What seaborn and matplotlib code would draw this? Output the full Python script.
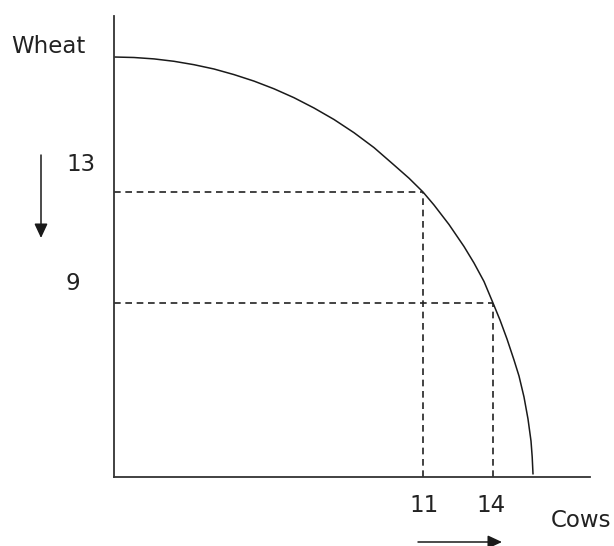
import matplotlib
matplotlib.use("Agg")
import matplotlib.pyplot as plt
import matplotlib.patches as mpatches
import seaborn as sns
import pandas as pd

# Production possibility frontier (schematic units)
curve_x = [0, 20, 40, 60, 80, 100, 120, 140, 160, 180, 200, 220, 240, 260, 280,
           295, 309, 320, 335, 350, 360, 370, 379, 386, 393, 400, 405, 410, 414,
           417, 418.2, 419]
curve_y = [420, 419.5, 418.1, 415.7, 412.3, 408, 402.4, 395.9, 388.2, 379.3, 369,
           357.5, 344.3, 329.4, 312, 298.8, 285, 272, 252.5, 230.5, 214, 195.5, 174,
           157, 138, 117, 101, 80, 58, 36, 20, 3]

# marked points on the frontier (cows, wheat) and their labels
point_x = [309, 379]
point_y = [285, 174]
cows_labels = ["11", "14"]
wheat_labels = ["13", "9"]

x_title = "Cows"
y_title = "Wheat"

sns.set_theme(style="white")
plt.rcParams["font.family"] = ["DejaVu Sans"]

W, H = 614, 546
fig = plt.figure(figsize=(W / 100, H / 100), dpi=100)
ax = fig.add_axes([114 / W, (H - 477) / H, 476 / W, 461 / H])

df = pd.DataFrame({"cows": curve_x, "wheat": curve_y})
sns.lineplot(data=df, x="cows", y="wheat", sort=False, estimator=None,
             color="#1a1a1a", linewidth=1.1, ax=ax)

for px, py in zip(point_x, point_y):
    ax.plot([0, px], [py, py], color="#222222", linewidth=1.2, linestyle=(0, (4, 2.8)))
    ax.plot([px, px], [0, py], color="#222222", linewidth=1.2, linestyle=(0, (4, 2.8)))

ax.set_xlim(0, 476)
ax.set_ylim(0, 461)
ax.set_xticks([])
ax.set_yticks([])
ax.set_xlabel("")
ax.set_ylabel("")
for s in ["top", "right"]:
    ax.spines[s].set_visible(False)
for s in ["left", "bottom"]:
    ax.spines[s].set_color("#333333")
    ax.spines[s].set_linewidth(1.3)

def ftext(x, y, s):
    fig.text(x / W, 1 - y / H, s, ha="center", va="baseline",
             fontsize=16.5, color="#222222")

ftext(48, 53, y_title)
ftext(581, 527, x_title)
ftext(81, 171, wheat_labels[0])
ftext(73, 290, wheat_labels[1])
ftext(424, 512, cows_labels[0])
ftext(491, 512, cows_labels[1])

arrow_kw = dict(arrowstyle="-|>,head_length=0.86,head_width=0.4",
                mutation_scale=10, color="#1a1a1a", lw=1.1,
                shrinkA=0, shrinkB=0)
fig.add_artist(mpatches.FancyArrowPatch(
    (41 / W, 1 - 155 / H), (41 / W, 1 - 238 / H),
    transform=fig.transFigure, **arrow_kw))
fig.add_artist(mpatches.FancyArrowPatch(
    (418 / W, 1 - 542 / H), (502 / W, 1 - 542 / H),
    transform=fig.transFigure, **arrow_kw))

fig.savefig("out.png", dpi=100)
